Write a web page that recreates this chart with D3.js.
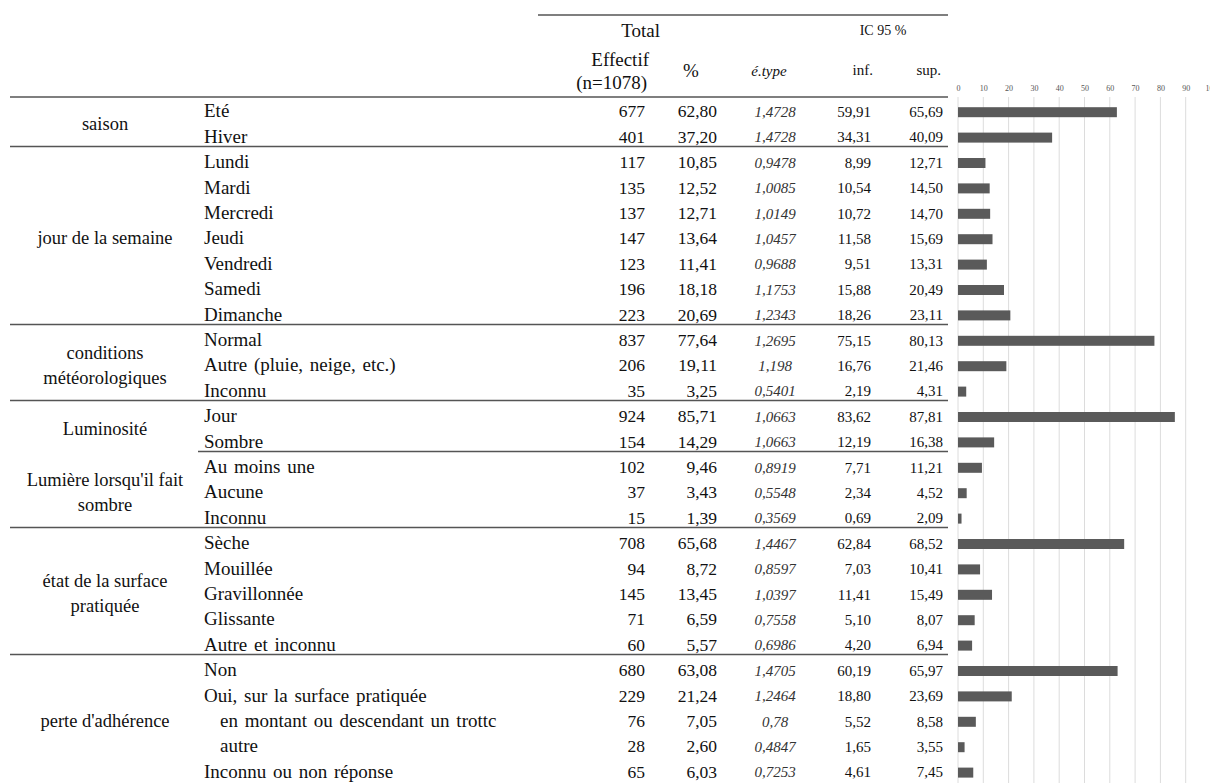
<!DOCTYPE html>
<html><head><meta charset="utf-8">
<script src="https://cdn.jsdelivr.net/npm/d3@7"></script>
<style>
html,body{margin:0;padding:0;background:#fff;}
svg{display:block;font-family:"Liberation Serif","Times New Roman",serif;}
</style></head>
<body>
<svg id="c" width="1210" height="783"></svg>
<script>
const groupLabels = [["saison"],["jour de la semaine"],["conditions","météorologiques"],["Luminosité"],["Lumière lorsqu'il fait","sombre"],["état de la surface","pratiquée"],["perte d'adhérence"]];
const groupSizes = [2,7,3,2,3,5,5];
const categories = ["Eté","Hiver","Lundi","Mardi","Mercredi","Jeudi","Vendredi","Samedi","Dimanche","Normal","Autre (pluie, neige, etc.)","Inconnu","Jour","Sombre","Au moins une","Aucune","Inconnu","Sèche","Mouillée","Gravillonnée","Glissante","Autre et inconnu","Non","Oui, sur la surface pratiquée","en montant ou descendant un trottc","autre","Inconnu ou non réponse"];
const subLevel = [0,0,0,0,0,0,0,0,0,0,0,0,0,0,0,0,0,0,0,0,0,0,0,0,1,1,0];
const effectif = [677,401,117,135,137,147,123,196,223,837,206,35,924,154,102,37,15,708,94,145,71,60,680,229,76,28,65];
const pct = [62.80,37.20,10.85,12.52,12.71,13.64,11.41,18.18,20.69,77.64,19.11,3.25,85.71,14.29,9.46,3.43,1.39,65.68,8.72,13.45,6.59,5.57,63.08,21.24,7.05,2.60,6.03];
const etype = [1.4728,1.4728,0.9478,1.0085,1.0149,1.0457,0.9688,1.1753,1.2343,1.2695,1.198,0.5401,1.0663,1.0663,0.8919,0.5548,0.3569,1.4467,0.8597,1.0397,0.7558,0.6986,1.4705,1.2464,0.78,0.4847,0.7253];
const icInf = [59.91,34.31,8.99,10.54,10.72,11.58,9.51,15.88,18.26,75.15,16.76,2.19,83.62,12.19,7.71,2.34,0.69,62.84,7.03,11.41,5.10,4.20,60.19,18.80,5.52,1.65,4.61];
const icSup = [65.69,40.09,12.71,14.50,14.70,15.69,13.31,20.49,23.11,80.13,21.46,4.31,87.81,16.38,11.21,4.52,2.09,68.52,10.41,15.49,8.07,6.94,65.97,23.69,8.58,3.55,7.45];
const xTicks = [0,10,20,30,40,50,60,70,80,90,100];

const svg = d3.select("#c");
const n = categories.length;
const rowH = 25.4;
const top0 = 99;
const y = d3.scaleBand().domain(d3.range(n)).range([top0, top0 + n*rowH]);
const cy = i => y(i) + y.bandwidth()/2;
const x = d3.scaleLinear().domain([0,100]).range([958, 1211]);
const f2 = d3.format(".2f");
const fr = s => String(s).replace(".", ",");

// chart gridlines
svg.append("g").selectAll("line").data(xTicks).join("line")
  .attr("x1", d=>x(d)).attr("x2", d=>x(d)).attr("y1", 97).attr("y2", 783)
  .attr("stroke", "#dcdcdc").attr("stroke-width", 1);
const ax = svg.append("g").attr("transform","translate(0,91)")
  .call(d3.axisTop(x).tickValues(xTicks).tickSize(0).tickPadding(0));
ax.select(".domain").remove();
ax.selectAll("text").attr("font-size", 8).attr("fill", "#555").attr("font-family", "Liberation Serif");

// bars
svg.append("g").selectAll("rect").data(pct).join("rect")
  .attr("x", x(0)).attr("y", (d,i)=>cy(i)-4.5)
  .attr("width", d=>x(d)-x(0)).attr("height", 10)
  .attr("fill", "#5a5a5a");

// rules
const rule = (x1,x2,yy)=>svg.append("line").attr("x1",x1).attr("x2",x2).attr("y1",yy).attr("y2",yy)
  .attr("stroke","#555").attr("stroke-width",1.5);
rule(538, 948, 15);
rule(10, 948, 97);
let start = 0;
const groupStart = [];
groupSizes.forEach((s,g)=>{
  groupStart.push(start);
  const last = start + s - 1;
  if (g < groupSizes.length-1) {
    rule(g===3 ? 198 : 10, 948, cy(last)+9.5);
  }
  start += s;
});

// header
const hdr = (t,xx,yy,anchor,size,italic)=>svg.append("text").text(t).attr("x",xx).attr("y",yy).attr("dy","0.35em")
  .attr("text-anchor",anchor).attr("font-size",size).attr("font-style",italic?"italic":"normal").attr("fill","#111");
hdr("Total", 660, 30, "end", 19);
hdr("IC 95 %", 883, 30, "middle", 14);
hdr("Effectif", 649, 59, "end", 19);
hdr("(n=1078)", 647, 82, "end", 19);
hdr("%", 691, 70, "middle", 19);
hdr("é.type", 769, 71, "middle", 15, true);
hdr("inf.", 873, 70, "end", 15);
hdr("sup.", 941, 70, "end", 15);

// group labels
const gl = svg.append("g").attr("font-size", 18.5).attr("fill", "#111");
groupLabels.forEach((lines,g)=>{
  const s = groupStart[g], e = s + groupSizes[g] - 1;
  const mid = (cy(s)+cy(e))/2;
  lines.forEach((t,k)=>{
    gl.append("text").text(t).attr("x",105).attr("text-anchor","middle")
      .attr("y", mid + (k - (lines.length-1)/2)*25).attr("dy","0.3em");
  });
});

// rows
const rows = svg.append("g").selectAll("g").data(categories).join("g");
rows.append("text").text(d=>d).attr("x",(d,i)=>subLevel[i]?220:204).attr("y",(d,i)=>cy(i)).attr("dy","0.3em")
  .attr("font-size",19).attr("word-spacing",2).attr("fill","#111");
rows.append("text").text((d,i)=>effectif[i]).attr("x",645).attr("y",(d,i)=>cy(i)).attr("dy","0.32em")
  .attr("text-anchor","end").attr("font-size",17.5).attr("fill","#111");
rows.append("text").text((d,i)=>fr(f2(pct[i]))).attr("x",717).attr("y",(d,i)=>cy(i)).attr("dy","0.32em")
  .attr("text-anchor","end").attr("font-size",17.5).attr("fill","#111");
rows.append("text").text((d,i)=>fr(etype[i])).attr("x",775).attr("y",(d,i)=>cy(i)).attr("dy","0.35em")
  .attr("text-anchor","middle").attr("font-size",15).attr("font-style","italic").attr("fill","#333");
rows.append("text").text((d,i)=>fr(f2(icInf[i]))).attr("x",871).attr("y",(d,i)=>cy(i)).attr("dy","0.35em")
  .attr("text-anchor","end").attr("font-size",15).attr("fill","#111");
rows.append("text").text((d,i)=>fr(f2(icSup[i]))).attr("x",943).attr("y",(d,i)=>cy(i)).attr("dy","0.35em")
  .attr("text-anchor","end").attr("font-size",15).attr("fill","#111");
</script>
</body></html>
